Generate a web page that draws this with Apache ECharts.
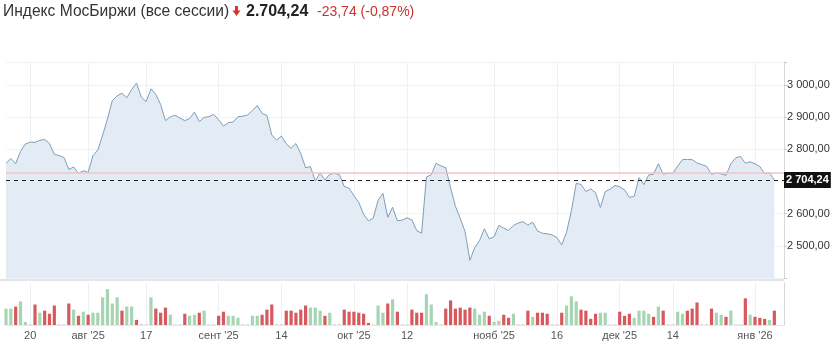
<!DOCTYPE html>
<html><head><meta charset="utf-8">
<script src="https://cdn.jsdelivr.net/npm/echarts@6/dist/echarts.min.js"></script>
<style>html,body{margin:0;padding:0;background:#fff}#c{width:834px;height:344px}</style>
</head><body><div id="c"></div>
<script>
// ---- data ----
const startDate = '2025-07-15';
const skipDates = ['2025-08-02','2025-08-03','2025-08-09','2025-08-10','2025-09-20','2025-09-21',
  '2025-10-25','2025-10-26','2025-11-02','2025-11-03','2025-11-22','2025-11-23','2025-12-06','2025-12-07','2025-12-31'];
const prices = [
2756.4,2771.3,2755.4,2793.1,2816.4,2822.3,2821.4,2827.6,2830.4,2817.7,
2783.8,2780.6,2774.4,2737.1,2744.9,2725.3,2733.4,2727.8,2780.0,2797.8,
2843.5,2894.5,2951.2,2965.8,2973.9,2959.9,2985.4,3005.6,2962.0,2948.0,
2987.6,2970.4,2939.0,2888.9,2900.4,2905.7,2897.0,2888.9,2895.5,2915.7,
2885.8,2898.9,2901.4,2908.2,2891.7,2872.1,2882.7,2884.3,2901.1,2902.6,
2906.7,2921.0,2935.3,2911.3,2904.8,2844.4,2828.3,2841.3,2817.1,2803.0,
2817.7,2786.2,2742.7,2746.1,2701.6,2725.6,2704.7,2722.2,2725.3,2721.2,
2684.5,2678.9,2655.6,2635.3,2597.7,2577.5,2585.9,2641.3,2663.0,2588.4,
2619.8,2577.5,2580.0,2586.8,2580.3,2547.3,2539.2,2713.8,2720.6,2756.4,
2748.0,2743.0,2680.5,2622.9,2584.9,2543.9,2455.0,2494.4,2516.2,2553.2,
2521.5,2528.0,2563.5,2554.8,2547.6,2563.2,2570.9,2575.0,2564.1,2573.4,
2546.0,2539.2,2537.3,2534.2,2525.5,2503.0,2542.0,2608.9,2694.0,2690.7,
2668.3,2676.7,2665.2,2619.0,2668.3,2675.8,2687.3,2683.6,2673.9,2650.6,
2653.7,2711.6,2690.1,2720.3,2722.2,2755.0,2722.5,2725.9,2724.6,2747.7,
2767.9,2768.2,2767.6,2757.3,2752.3,2746.7,2721.8,2726.8,2723.7,2718.7,
2755.1,2773.5,2777.5,2756.7,2761.0,2754.8,2746.4,2723.7,2726.8,2704.24];
const volumes = [
16,16,18,23,3,0.6,20,12,14,11,
19,0.6,0.6,21,15,9,13,10,12,12,
27,35,21,27,14,18,18,5,1,0.6,
27,16,12,17,10,0.6,0.6,11,9,10,
12,14,0.6,0.6,9,13,9,9,7,0.6,
0.6,9,9,10,15,20,0.6,0.6,14,14,
12,15,19,17,17,14,9,12,0.6,0.6,
15,13,13,12,11,2,0.6,19,12,21,
25,13,0.6,0.6,15,12,12,30,20,3,
0.6,16,24,16,17,15,17,16,10,13,
9,3,4,10,7,11,0.6,0.6,14,8,
12,12,11,0.6,0.6,12,19,28,23,15,
14,6,11,12,12,0.6,0.6,13,9,11,
7,14,14,11,8,18,14,0.6,0.6,13,
11,14,16,22,0.6,0.6,16,12,10,8,
14,0.6,0.6,26,10,8,7,6,5,14];
// G = рост, R = падение, N = выходная сессия
const volDir = ('GGRGGNRGRR' + 'RNNRGRGRGG' + 'GGGGRGGRNN' + 'GRRRGNNRGG' + 'RGNNRRGGGN' +
  'NGGRRRNNRR' + 'RRRGGGRGNN' + 'RRRRRRNGGR' + 'GRNNRRRGGG' + 'NRRRRRRGGG' +
  'RGGRRGNNRG' + 'RRRNNRGGGR' + 'RRRGGNNRRR' + 'GGGGRGRNNG' + 'GRRRNNRGGR' + 'GNNRGRRRGR').split('');
const tickDates = ['2025-07-20','2025-08-01','2025-08-17','2025-09-01','2025-09-14','2025-10-01',
  '2025-10-12','2025-11-01','2025-11-16','2025-12-01','2025-12-14','2026-01-01'];
const tickLabels = ['20',"авг '25",'17',"сент '25",'14',"окт '25",'12',"нояб '25",'16',"дек '25",'14',"янв '26"];
const lastPrice = 2704.24;
const prevClose = 2727.98;

// ---- build categories ----
const dates = [];
let d = new Date(startDate + 'T00:00:00Z');
while (dates.length < prices.length) {
  const s = d.toISOString().slice(0, 10);
  if (!skipDates.includes(s)) dates.push(s);
  d = new Date(d.getTime() + 86400000);
}
const cats = dates.concat(['pad-1', 'pad-2']);
const tickIdx = tickDates.map(t => dates.indexOf(t));
const isTick = i => tickIdx.includes(i);

function fmt(v) {
  const p = v.toFixed(2).split('.');
  return p[0].replace(/\B(?=(\d{3})+(?!\d))/g, ' ') + ',' + p[1];
}
const FONT = '"Liberation Sans", Arial, sans-serif';
const volColor = {G: '#a7d5b3', R: '#d65a5d', N: '#cccccc'};

const chart = echarts.init(document.getElementById('c'), null, {renderer: 'canvas'});
chart.setOption({
  animation: false,
  textStyle: {fontFamily: FONT},
  grid: [
    {left: 6, right: 50, top: 62, bottom: 66},
    {left: 6, right: 50, top: 283, bottom: 19}
  ],
  xAxis: [
    {type: 'category', gridIndex: 0, data: cats, boundaryGap: false,
     axisLine: {show: false}, axisTick: {show: false}, axisLabel: {show: false},
     splitLine: {show: true, interval: (i) => isTick(i), lineStyle: {color: '#eef1f4', width: 1}}},
    {type: 'category', gridIndex: 1, data: cats, boundaryGap: false,
     axisLine: {show: true, lineStyle: {color: '#e4e6e8'}}, axisTick: {show: false},
     axisLabel: {show: true, interval: (i) => isTick(i), color: '#555', fontSize: 11, margin: 5,
       fontFamily: FONT, formatter: (v, i) => { const k = tickIdx.indexOf(i); return k >= 0 ? tickLabels[k] : ''; }},
     splitLine: {show: true, interval: (i) => isTick(i), lineStyle: {color: '#eef1f4', width: 1}}}
  ],
  yAxis: [
    {type: 'value', gridIndex: 0, position: 'right', min: 2400, max: 3071, interval: 100,
     axisLine: {show: true, lineStyle: {color: '#d6d9dc'}},
     axisTick: {show: true, length: 3, lineStyle: {color: '#c8c8c8'}},
     axisLabel: {color: '#333', fontSize: 11, margin: 3, fontFamily: FONT,
       formatter: v => (v % 100 !== 0 || v === 2700 || v === 2400) ? '' : fmt(v)},
     splitLine: {show: true, lineStyle: {color: '#f1f2f3'}}},
    {type: 'value', gridIndex: 1, position: 'right', min: 0, max: 41,
     axisLine: {show: true, lineStyle: {color: '#d6d9dc'}}, axisTick: {show: false},
     axisLabel: {show: false}, splitLine: {show: false}}
  ],
  series: [
    {type: 'line', xAxisIndex: 0, yAxisIndex: 0, data: prices, showSymbol: false, symbol: 'none',
     lineStyle: {color: '#7f9db6', width: 1}, areaStyle: {color: '#e3ecf5', opacity: 1, origin: 'start'},
     markLine: {silent: true, symbol: ['none', 'none'], animation: false,
       data: [
         {yAxis: prevClose, lineStyle: {color: '#f3c3c3', width: 1.5, type: 'solid'}, label: {show: false}},
         {yAxis: lastPrice, lineStyle: {color: '#222', width: 1, type: [4, 4]},
          label: {show: true, position: 'end', distance: 0, formatter: fmt(lastPrice), color: '#fff',
            backgroundColor: '#111', fontWeight: 'bold', fontSize: 11, fontFamily: FONT, padding: [3, 2, 2, 2]}}
       ]}},
    {type: 'bar', xAxisIndex: 1, yAxisIndex: 1, barWidth: 3.2,
     data: volumes.map((v, i) => ({value: v, itemStyle: {color: volColor[volDir[i]]}}))}
  ],
  graphic: [
    {type: 'rect', shape: {x: 0, y: 279, width: 784, height: 2}, style: {fill: '#e2e5e8'}, silent: true},
    {type: 'text', x: 3, y: 12, style: {text: 'Индекс МосБиржи (все сессии)', fill: '#333', font: '15.6px ' + FONT, textVerticalAlign: 'middle'}},
    {type: 'polygon', shape: {points: [[235, 6], [238, 6], [238, 10.5], [240.5, 10.5], [236.5, 16], [232.5, 10.5], [235, 10.5]]}, style: {fill: '#d9352f'}},
    {type: 'text', x: 246, y: 12, style: {text: '2.704,24', fill: '#222', font: 'bold 16px ' + FONT, textVerticalAlign: 'middle'}},
    {type: 'text', x: 317, y: 12, style: {text: '-23,74 (-0,87%)', fill: '#c9322d', font: '14px ' + FONT, textVerticalAlign: 'middle'}},
    {type: 'text', x: 16, y: 247, style: {text: 'Investing', fill: '#c2c7cc', font: 'bold 19px ' + FONT, textVerticalAlign: 'middle'}},
    {type: 'text', x: 98, y: 249, style: {text: '.com', fill: '#c9cdd2', font: '13px ' + FONT, textVerticalAlign: 'middle'}}
  ]
});
</script></body></html>
